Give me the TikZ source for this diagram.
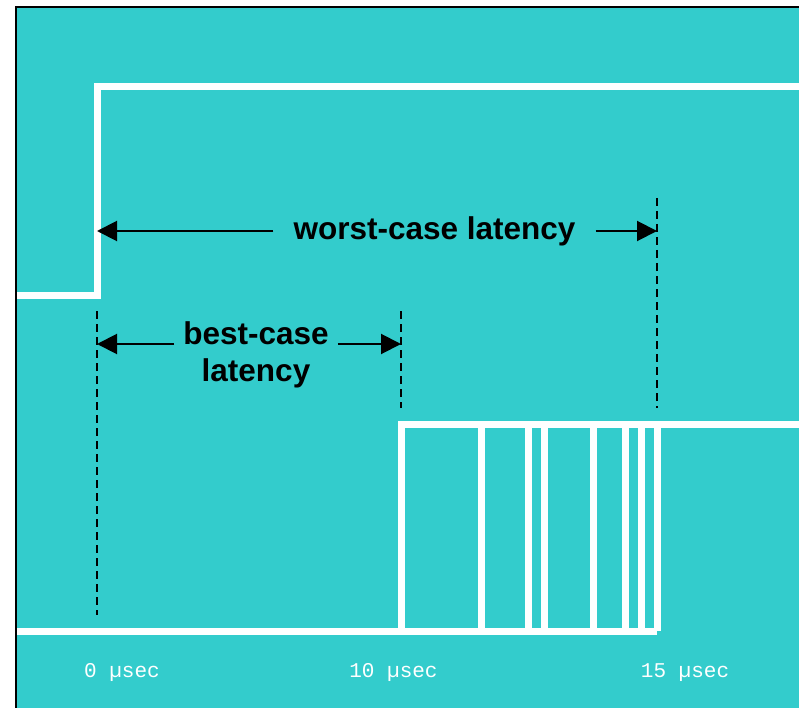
\documentclass[tikz,border=0pt]{standalone}
\usepackage{fontspec}
\setmainfont{Liberation Sans}
\newfontfamily\monofont{Liberation Mono}
\usetikzlibrary{arrows.meta}
\definecolor{scopeteal}{HTML}{33CCCC}
\begin{document}
\begin{tikzpicture}[x=1pt,y=-1pt,
  signal/.style={white, line width=7pt, line join=miter},
  guide/.style={black, line width=1.8pt, dash pattern=on 8pt off 5pt},
  span/.style={black, line width=2pt, -{Triangle[length=20pt,width=20pt]}},
  caption/.style={font=\bfseries\fontsize{31.5}{36}\selectfont, inner ysep=0pt, anchor=base},
  tick/.style={font=\monofont\fontsize{21}{24}\selectfont, text=white, inner sep=0pt, anchor=base}]
  \useasboundingbox (0,0) rectangle (799,708);

  % scope screen background and frame
  \fill[scopeteal] (16,7) rectangle (799,708);
  \draw[black, line width=2pt] (16,708) -- (16,7) -- (799,7);

  % input signal: single rising edge
  \draw[signal] (17,295) -- (97,295) -- (97,87) -- (800,87);

  % output signal: response edges spread over the latency window
  \draw[signal] (17,631) -- (401,631) -- (401,424) -- (800,424);
  \draw[signal] (401,631) -- (657,631);
  \foreach \x in {481,528,544,593,625,641,657}
    \draw[signal] (\x,424) -- (\x,631);

  % timing reference marks
  \coordinate (t0top) at (97,311);
  \coordinate (t0bot) at (97,615);
  \coordinate (t10top) at (401,311);
  \coordinate (t10bot) at (401,408);
  \coordinate (t15top) at (657,198);
  \coordinate (t15bot) at (657,408);
  \draw[guide] (t0top) -- (t0bot);
  \draw[guide] (t10top) -- (t10bot);
  \draw[guide] (t15top) -- (t15bot);

  % worst-case latency span
  \coordinate (w0) at (97,231);
  \coordinate (w1) at (657,231);
  \node[caption, inner xsep=20pt] (worst) at (434.5,240) {worst-case latency};
  \draw[span] (worst.west |- w0) -- (w0);
  \draw[span] (worst.east |- w1) -- (w1);

  % best-case latency span
  \coordinate (b0) at (97,344);
  \coordinate (b1) at (401,344);
  \node[caption, inner xsep=9pt] (best) at (256,344) {best-case};
  \node[caption] (bestl) at (256,381) {latency};
  \draw[span] (best.west |- b0) -- (b0);
  \draw[span] (best.east |- b1) -- (b1);

  % time axis labels
  \node[tick] (l0) at (122,677) {0 µsec};
  \node[tick] (l10) at (393.5,677) {10 µsec};
  \node[tick] (l15) at (685,677) {15 µsec};
\end{tikzpicture}
\end{document}
